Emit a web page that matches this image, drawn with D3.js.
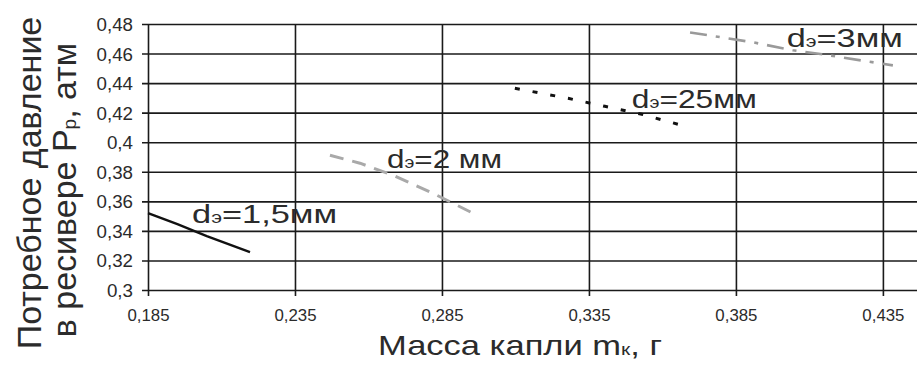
<!DOCTYPE html>
<html>
<head>
<meta charset="utf-8">
<script src="https://cdn.jsdelivr.net/npm/d3@7"></script>
<style>
  html, body { margin: 0; padding: 0; background: #fff; }
  svg { display: block; }
  text { font-family: "Liberation Sans", Arial, sans-serif; fill: #2b2b2b; }
</style>
</head>
<body>
<svg id="chart" width="917" height="365"></svg>
<script>
// ---- data ----
const xTicks = [0.185, 0.235, 0.285, 0.335, 0.385, 0.435];
const yTicks = [0.3, 0.32, 0.34, 0.36, 0.38, 0.4, 0.42, 0.44, 0.46, 0.48];
const xTickLabels = ["0,185", "0,235", "0,285", "0,335", "0,385", "0,435"];
const yTickLabels = ["0,3", "0,32", "0,34", "0,36", "0,38", "0,4", "0,42", "0,44", "0,46", "0,48"];

const series15 = [[0.185, 0.352], [0.195, 0.3445], [0.205, 0.3365], [0.2197, 0.3257]];
const series2  = [[0.2469, 0.3912], [0.2571, 0.3858], [0.2683, 0.3777], [0.2819, 0.3655], [0.2955, 0.352]];
const series25 = [[0.3098, 0.4365], [0.3279, 0.4297], [0.3404, 0.4243], [0.353, 0.4189], [0.369, 0.4101]];
const series3  = [[0.3694, 0.4743], [0.3908, 0.4676], [0.4044, 0.4622], [0.4146, 0.4595], [0.4296, 0.4547], [0.4384, 0.452]];

const seriesLabels = ["1,5мм", "2 мм", "25мм", "3мм"];
const labelAnchors = [[0.2000, 0.3453], [0.2663, 0.3824], [0.3496, 0.4230], [0.4023, 0.4642]];
const labelWidths = [145, 115, 125, 116];

// ---- layout ----
const svg = d3.select("#chart");
const x = d3.scaleLinear().domain([0.185, 0.4466]).range([148, 917]);
const y = d3.scaleLinear().domain([0.3, 0.48]).range([290, 24]);

// approximate glyph-width fit for tick text (digits wider, comma narrow)
const fitWidth = (s, dw, cw) => s.split("").reduce((a, c) => a + (c === "," ? cw : dw), 0);

// horizontal grid + y axis ticks
const yAxis = d3.axisLeft(y).tickValues(yTicks)
  .tickFormat((d, i) => yTickLabels[i])
  .tickSize(-(917 - 148)).tickSizeOuter(0).tickPadding(15);
const gy = svg.append("g").attr("transform", `translate(148,0)`).call(yAxis)
  .attr("font-size", 18).attr("font-family", null);
gy.select(".domain").remove();
gy.selectAll(".tick line").attr("stroke", "#1a1a1a").attr("stroke-width", 1.6).attr("x1", -6);
gy.selectAll(".tick text")
  .attr("font-size", 18).attr("fill", "#333").attr("dy", "0.36em")
  .attr("textLength", (d, i) => fitWidth(yTickLabels[i], 10.3, 5.5))
  .attr("lengthAdjust", "spacingAndGlyphs");

// vertical grid + x axis ticks
const xAxis = d3.axisBottom(x).tickValues(xTicks)
  .tickFormat((d, i) => xTickLabels[i])
  .tickSize(-(290 - 24)).tickSizeOuter(0).tickPadding(19);
const gx = svg.append("g").attr("transform", `translate(0,290)`).call(xAxis)
  .attr("font-size", 17).attr("font-family", null);
gx.select(".domain").remove();
gx.selectAll(".tick line").attr("stroke", "#1a1a1a").attr("stroke-width", 1.6).attr("y1", 6);
gx.selectAll(".tick text")
  .attr("font-size", 17).attr("fill", "#333")
  .attr("textLength", (d, i) => fitWidth(xTickLabels[i], 9.4, 4.5))
  .attr("lengthAdjust", "spacingAndGlyphs");

// series
const line = d3.line().x(d => x(d[0])).y(d => y(d[1]));
const styles = [
  { data: series15, stroke: "#111", width: 2.4, dash: null },
  { data: series2, stroke: "#a9a9a9", width: 3, dash: "14,9" },
  { data: series25, stroke: "#111", width: 3, dash: "5,13" },
  { data: series3, stroke: "#9a9a9a", width: 2.6, dash: "17,9,4,9" }
];
styles.forEach(s => {
  svg.append("path").datum(s.data).attr("d", line)
    .attr("fill", "none").attr("stroke", s.stroke)
    .attr("stroke-width", s.width)
    .attr("stroke-dasharray", s.dash);
});

// series labels
seriesLabels.forEach((lab, i) => {
  const t = svg.append("text")
    .attr("x", x(labelAnchors[i][0])).attr("y", y(labelAnchors[i][1]))
    .attr("textLength", labelWidths[i]).attr("lengthAdjust", "spacingAndGlyphs")
    .style("font-size", "26px");
  t.append("tspan").text("d");
  t.append("tspan").text("э").style("font-size", "16px");
  t.append("tspan").text("=" + lab);
});

// axis titles
const xt = svg.append("text").attr("x", 378).attr("y", 355)
  .attr("textLength", 284).attr("lengthAdjust", "spacingAndGlyphs")
  .style("font-size", "28px");
xt.append("tspan").text("Масса капли m");
xt.append("tspan").text("к").style("font-size", "17px");
xt.append("tspan").text(", г");

const yt1 = svg.append("text")
  .attr("transform", "translate(41,183) rotate(-90)")
  .attr("text-anchor", "middle").style("font-size", "34px")
  .text("Потребное давление");
const yt2 = svg.append("text")
  .attr("transform", "translate(76,190) rotate(-90)")
  .attr("text-anchor", "middle").style("font-size", "34px");
yt2.append("tspan").text("в ресивере P");
yt2.append("tspan").text("р").style("font-size", "19px");
yt2.append("tspan").text(", атм");
</script>
</body>
</html>
